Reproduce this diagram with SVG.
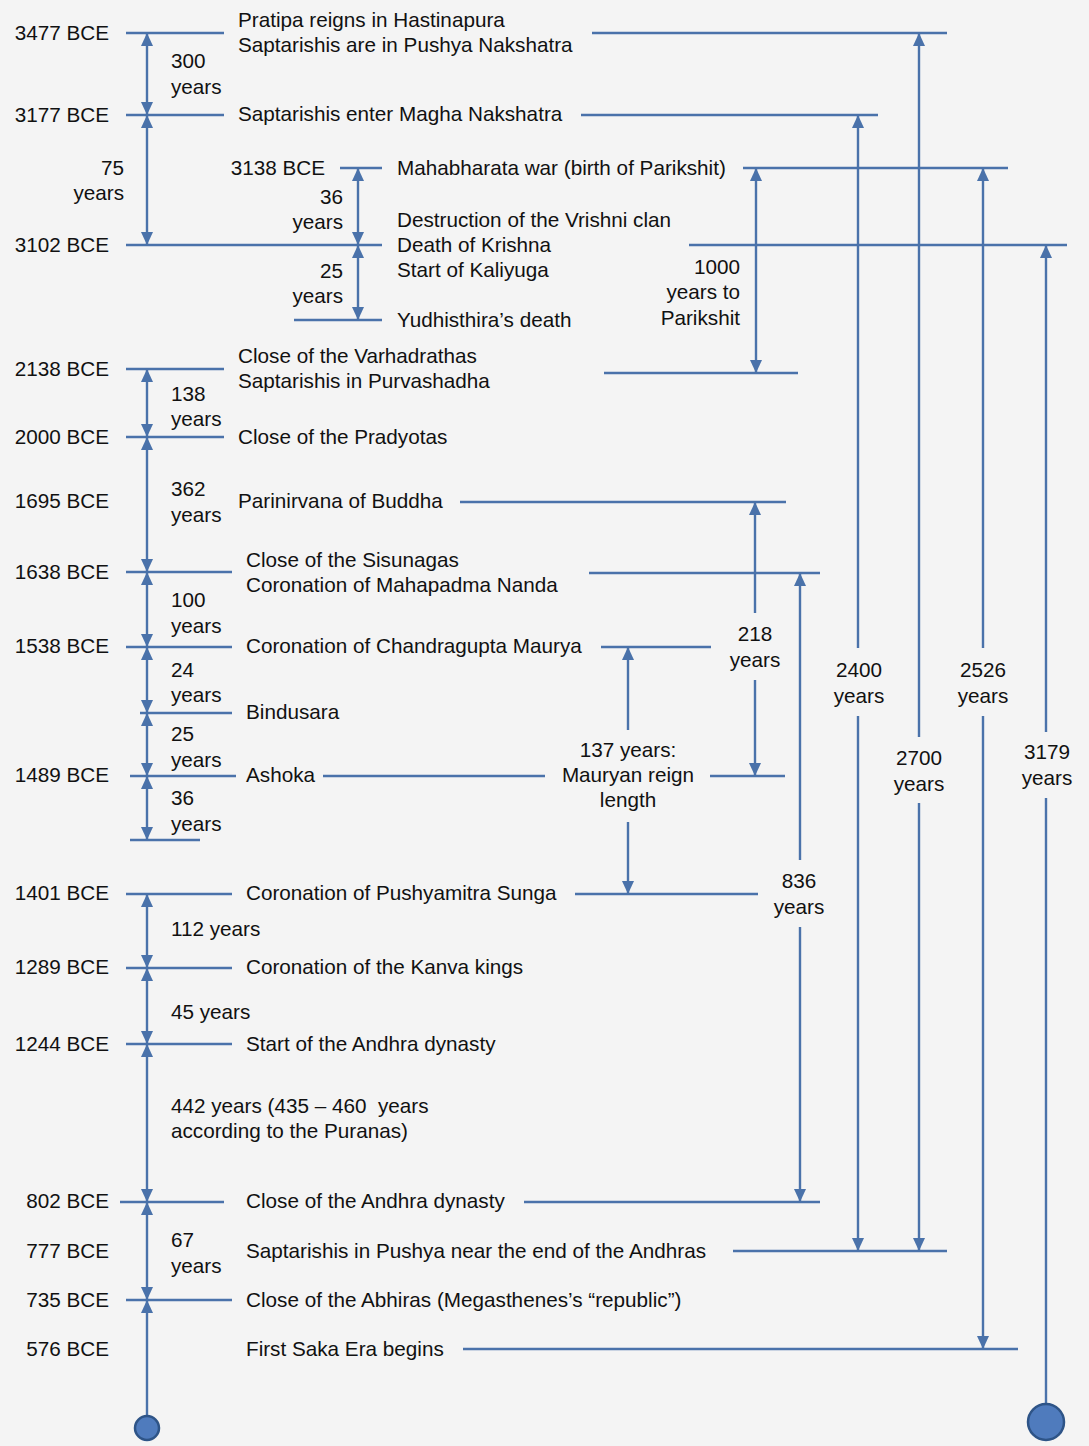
<svg xmlns="http://www.w3.org/2000/svg" width="1089" height="1446" viewBox="0 0 1089 1446">
<style>
.t{font-family:"Liberation Sans",Arial,sans-serif;font-size:20.7px;fill:#111}
.r{text-anchor:end}
.m{text-anchor:middle}
.ln{stroke:#4a72aa;stroke-width:2.4;fill:none}
.a2{marker-start:url(#ah);marker-end:url(#ah)}
.a1{marker-end:url(#ah)}
.as{marker-start:url(#ah)}
.dot{fill:#4f7bbd;stroke:#2e5487;stroke-width:2.5}
</style>
<defs>
<marker id="ah" markerUnits="userSpaceOnUse" markerWidth="13" markerHeight="12" refX="13" refY="6" orient="auto-start-reverse" viewBox="0 0 13 12">
<path d="M0,0 L13,6 L0,12 z" fill="#4a72aa"/>
</marker>
</defs>
<rect width="1089" height="1446" fill="#f4f4f4"/>

<g id="connectors">
<path class="ln" d="M126,33H224 M126,115H224 M126,245H382 M340,168H382 M294,320H382 M126,369H224 M126,437H224 M126,572H232 M126,647H232 M140,713H232 M130,776H236 M130,840H200 M126,894H232 M126,968H232 M126,1044H232 M120,1202H224 M126,1300H232"/>
<path class="ln" d="M592,33H947 M581,115H878 M743,168H1008 M689,245H1067 M604,373H798 M460,502H786 M589,573H820 M601,647H711 M323,776H545 M710,776H785 M575,894H758 M524,1202H820 M733,1251H947 M463,1349H1018"/>
<line class="ln a2" x1="147" y1="33" x2="147" y2="115"/>
<line class="ln a2" x1="147" y1="115" x2="147" y2="245"/>
<line class="ln a2" x1="358" y1="168" x2="358" y2="245"/>
<line class="ln a2" x1="358" y1="245" x2="358" y2="320"/>
<line class="ln a2" x1="147" y1="369" x2="147" y2="437"/>
<line class="ln a2" x1="147" y1="437" x2="147" y2="572"/>
<line class="ln a2" x1="147" y1="572" x2="147" y2="647"/>
<line class="ln a2" x1="147" y1="647" x2="147" y2="713"/>
<line class="ln a2" x1="147" y1="713" x2="147" y2="776"/>
<line class="ln a2" x1="147" y1="776" x2="147" y2="840"/>
<line class="ln a2" x1="147" y1="894" x2="147" y2="968"/>
<line class="ln a2" x1="147" y1="968" x2="147" y2="1044"/>
<line class="ln a2" x1="147" y1="1044" x2="147" y2="1202"/>
<line class="ln a2" x1="147" y1="1202" x2="147" y2="1300"/>
<line class="ln as" x1="147" y1="1300" x2="147" y2="1416"/>
<line class="ln a2" x1="756" y1="168" x2="756" y2="373"/>
<line class="ln as" x1="755" y1="502" x2="755" y2="613"/>
<line class="ln a1" x1="755" y1="680" x2="755" y2="776"/>
<line class="ln as" x1="628" y1="647" x2="628" y2="730"/>
<line class="ln a1" x1="628" y1="822" x2="628" y2="894"/>
<line class="ln as" x1="800" y1="573" x2="800" y2="860"/>
<line class="ln a1" x1="800" y1="927" x2="800" y2="1202"/>
<line class="ln as" x1="858" y1="115" x2="858" y2="648"/>
<line class="ln a1" x1="858" y1="716" x2="858" y2="1251"/>
<line class="ln as" x1="919" y1="33" x2="919" y2="737"/>
<line class="ln a1" x1="919" y1="803" x2="919" y2="1251"/>
<line class="ln as" x1="983" y1="168" x2="983" y2="648"/>
<line class="ln a1" x1="983" y1="716" x2="983" y2="1349"/>
<line class="ln as" x1="1046" y1="245" x2="1046" y2="732"/>
<line class="ln" x1="1046" y1="798" x2="1046" y2="1404"/>
<circle class="dot" cx="147" cy="1428" r="12"/>
<circle class="dot" cx="1046" cy="1422" r="18"/>
</g>

<g id="n3477"><text class="t r" x="109" y="40">3477 BCE</text><text class="t" x="238" y="27">Pratipa reigns in Hastinapura</text><text class="t" x="238" y="52">Saptarishis are in Pushya Nakshatra</text></g>
<g id="d300"><text class="t" x="171" y="68">300</text><text class="t" x="171" y="94">years</text></g>
<g id="n3177"><text class="t r" x="109" y="122">3177 BCE</text><text class="t" x="238" y="121">Saptarishis enter Magha Nakshatra</text></g>
<g id="d75"><text class="t r" x="124" y="175">75</text><text class="t r" x="124" y="200">years</text></g>
<g id="n3138"><text class="t r" x="325" y="175">3138 BCE</text><text class="t" x="397" y="175">Mahabharata war (birth of Parikshit)</text></g>
<g id="d36a"><text class="t r" x="343" y="204">36</text><text class="t r" x="343" y="229">years</text></g>
<g id="n3102"><text class="t r" x="109" y="252">3102 BCE</text><text class="t" x="397" y="227">Destruction of the Vrishni clan</text><text class="t" x="397" y="252">Death of Krishna</text><text class="t" x="397" y="277">Start of Kaliyuga</text></g>
<g id="d25a"><text class="t r" x="343" y="278">25</text><text class="t r" x="343" y="303">years</text></g>
<g id="nYud"><text class="t" x="397" y="327">Yudhisthira’s death</text></g>
<g id="d1000"><text class="t r" x="740" y="274">1000</text><text class="t r" x="740" y="299">years to</text><text class="t r" x="740" y="325">Parikshit</text></g>
<g id="n2138"><text class="t r" x="109" y="376">2138 BCE</text><text class="t" x="238" y="363">Close of the Varhadrathas</text><text class="t" x="238" y="388">Saptarishis in Purvashadha</text></g>
<g id="d138"><text class="t" x="171" y="401">138</text><text class="t" x="171" y="426">years</text></g>
<g id="n2000"><text class="t r" x="109" y="444">2000 BCE</text><text class="t" x="238" y="444">Close of the Pradyotas</text></g>
<g id="d362"><text class="t" x="171" y="496">362</text><text class="t" x="171" y="522">years</text></g>
<g id="n1695"><text class="t r" x="109" y="508">1695 BCE</text><text class="t" x="238" y="508">Parinirvana of Buddha</text></g>
<g id="n1638"><text class="t r" x="109" y="579">1638 BCE</text><text class="t" x="246" y="567">Close of the Sisunagas</text><text class="t" x="246" y="592">Coronation of Mahapadma Nanda</text></g>
<g id="d100"><text class="t" x="171" y="607">100</text><text class="t" x="171" y="633">years</text></g>
<g id="n1538"><text class="t r" x="109" y="653">1538 BCE</text><text class="t" x="246" y="653">Coronation of Chandragupta Maurya</text></g>
<g id="d24"><text class="t" x="171" y="677">24</text><text class="t" x="171" y="702">years</text></g>
<g id="nBind"><text class="t" x="246" y="719">Bindusara</text></g>
<g id="d25b"><text class="t" x="171" y="741">25</text><text class="t" x="171" y="767">years</text></g>
<g id="n1489"><text class="t r" x="109" y="782">1489 BCE</text><text class="t" x="246" y="782">Ashoka</text></g>
<g id="d36b"><text class="t" x="171" y="805">36</text><text class="t" x="171" y="831">years</text></g>
<g id="d218"><text class="t m" x="755" y="641">218</text><text class="t m" x="755" y="667">years</text></g>
<g id="d137"><text class="t m" x="628" y="757">137 years:</text><text class="t m" x="628" y="782">Mauryan reign</text><text class="t m" x="628" y="807">length</text></g>
<g id="d836"><text class="t m" x="799" y="888">836</text><text class="t m" x="799" y="914">years</text></g>
<g id="d2400"><text class="t m" x="859" y="677">2400</text><text class="t m" x="859" y="703">years</text></g>
<g id="d2700"><text class="t m" x="919" y="765">2700</text><text class="t m" x="919" y="791">years</text></g>
<g id="d2526"><text class="t m" x="983" y="677">2526</text><text class="t m" x="983" y="703">years</text></g>
<g id="d3179"><text class="t m" x="1047" y="759">3179</text><text class="t m" x="1047" y="785">years</text></g>
<g id="n1401"><text class="t r" x="109" y="900">1401 BCE</text><text class="t" x="246" y="900">Coronation of Pushyamitra Sunga</text></g>
<g id="d112"><text class="t" x="171" y="936">112 years</text></g>
<g id="n1289"><text class="t r" x="109" y="974">1289 BCE</text><text class="t" x="246" y="974">Coronation of the Kanva kings</text></g>
<g id="d45"><text class="t" x="171" y="1019">45 years</text></g>
<g id="n1244"><text class="t r" x="109" y="1051">1244 BCE</text><text class="t" x="246" y="1051">Start of the Andhra dynasty</text></g>
<g id="d442"><text class="t" x="171" y="1113" xml:space="preserve">442 years (435 – 460  years</text><text class="t" x="171" y="1138">according to the Puranas)</text></g>
<g id="n802"><text class="t r" x="109" y="1208">802 BCE</text><text class="t" x="246" y="1208">Close of the Andhra dynasty</text></g>
<g id="d67"><text class="t" x="171" y="1247">67</text><text class="t" x="171" y="1273">years</text></g>
<g id="n777"><text class="t r" x="109" y="1258">777 BCE</text><text class="t" x="246" y="1258">Saptarishis in Pushya near the end of the Andhras</text></g>
<g id="n735"><text class="t r" x="109" y="1307">735 BCE</text><text class="t" x="246" y="1307">Close of the Abhiras (Megasthenes’s “republic”)</text></g>
<g id="n576"><text class="t r" x="109" y="1356">576 BCE</text><text class="t" x="246" y="1356">First Saka Era begins</text></g>
</svg>
